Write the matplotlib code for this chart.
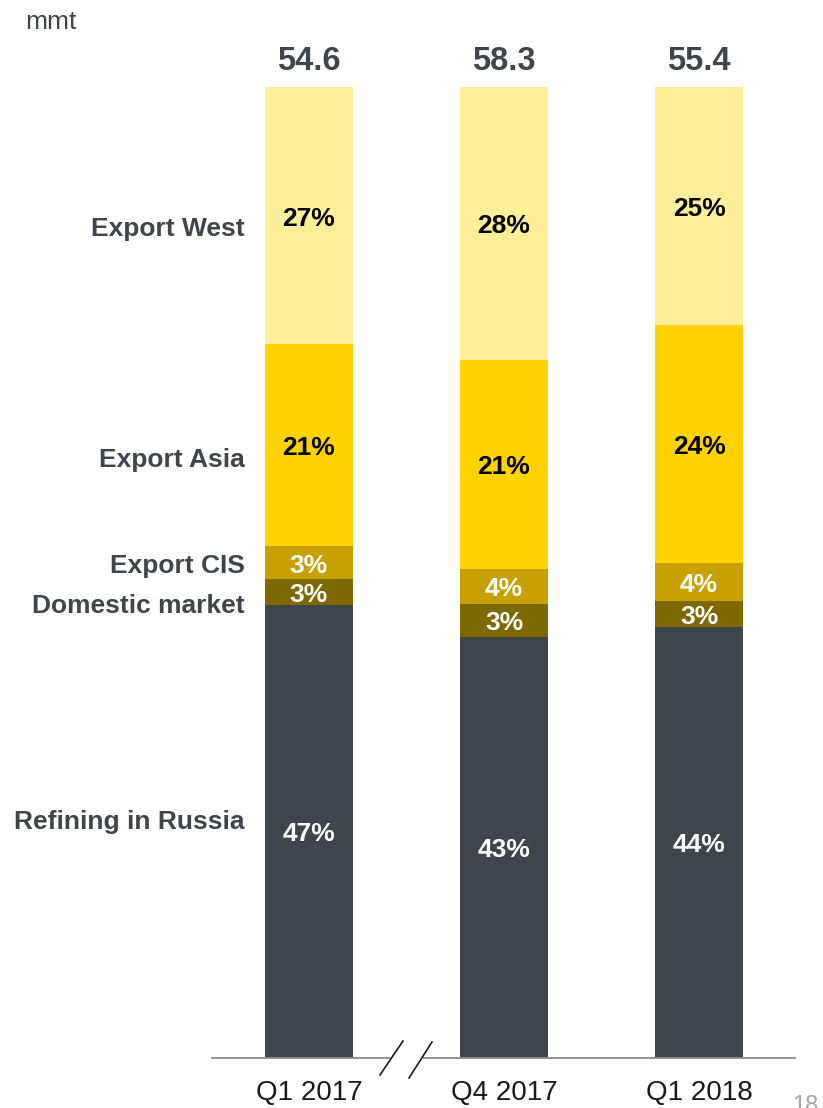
import matplotlib
matplotlib.use("Agg")
import matplotlib.pyplot as plt

plt.rcParams['font.family'] = ['Liberation Sans', 'DejaVu Sans']

periods = ["Q1 2017", "Q4 2017", "Q1 2018"]
totals = ["54.6", "58.3", "55.4"]
segments = ["Refining in Russia", "Domestic market", "Export CIS", "Export Asia", "Export West"]
# shares of total (%), bottom to top
refining = [46.7, 43.4, 44.4]
domestic = [2.6, 3.4, 2.7]
export_cis = [3.4, 3.6, 3.9]
export_asia = [20.8, 21.5, 24.5]
export_west = [26.5, 28.1, 24.5]
# rounded labels shown on bars
lbl_refining = ["47%", "43%", "44%"]
lbl_domestic = ["3%", "3%", "3%"]
lbl_cis = ["3%", "4%", "4%"]
lbl_asia = ["21%", "21%", "24%"]
lbl_west = ["27%", "28%", "25%"]

series = [refining, domestic, export_cis, export_asia, export_west]
labels = [lbl_refining, lbl_domestic, lbl_cis, lbl_asia, lbl_west]
colors = ["#3E464C", "#7F6800", "#C8A000", "#FFD200", "#FFEE99"]
txt_colors = ["white", "white", "white", "black", "black"]
cat_offsets = [1.0, -1.5, -0.3, -1.5, -1.4]

W, H = 823, 1108
fig = plt.figure(figsize=(W / 100, H / 100), dpi=100)
left_px, right_px, bot_px, top_px = 212, 795, 1058, 87
ax = fig.add_axes([left_px / W, (H - bot_px) / H, (right_px - left_px) / W, (bot_px - top_px) / H])
ax.set_xlim(-0.497, 2.492)
ax.set_ylim(0, 100)

x = list(range(len(periods)))
bottoms = [0.0] * len(periods)
for vals, labs, col, tc in zip(series, labels, colors, txt_colors):
    ax.bar(x, vals, bottom=bottoms, width=0.451, color=col, edgecolor='none')
    for i in x:
        ax.text(i, bottoms[i] + vals[i] / 2 - 0.3, labs[i], ha='center', va='center',
                fontsize=19, fontweight='bold', color=tc)
    bottoms = [b + v for b, v in zip(bottoms, vals)]

# category labels at left, aligned with first bar
b = 0.0
for name, vals, off in zip(segments, series, cat_offsets):
    ax.text(-0.328, b + vals[0] / 2 + off, name, ha='right', va='center',
            fontsize=19, fontweight='bold', color='#3E464C', clip_on=False)
    b += vals[0]

for i, t in zip(x, totals):
    ax.text(i, 102.6, t, ha='center', va='center', fontsize=23.5, fontweight='bold',
            color='#3E464C', clip_on=False)

for s in ['top', 'right', 'left']:
    ax.spines[s].set_visible(False)
ax.spines['bottom'].set_color('#8C8C8C')
ax.spines['bottom'].set_linewidth(1.3)
ax.set_yticks([])
ax.set_xticks(x)
ax.set_xticklabels(periods, fontsize=20, color='#1A1A1A')
ax.tick_params(axis='x', length=0, pad=16)

# axis break: gap in baseline plus two slashes
fig.add_artist(plt.Line2D([393 / W, 421 / W], [(H - 1058) / H, (H - 1058) / H],
                          color='white', lw=3, zorder=5))
for x0, y0, x1, y1 in [(380, 1075, 403, 1041), (409, 1078, 432, 1042)]:
    fig.add_artist(plt.Line2D([x0 / W, x1 / W], [(H - y0) / H, (H - y1) / H],
                              color='#1A1A1A', lw=1.2, zorder=6))

fig.text(25 / W, 1 - 22 / H, "mmt", ha='left', va='center', fontsize=19, color='#3E464C')
fig.text(792 / W, 1 - 1106 / H, "18", ha='left', va='center', fontsize=17, color='#A6A6A6')

fig.savefig("out.png", dpi=100)
